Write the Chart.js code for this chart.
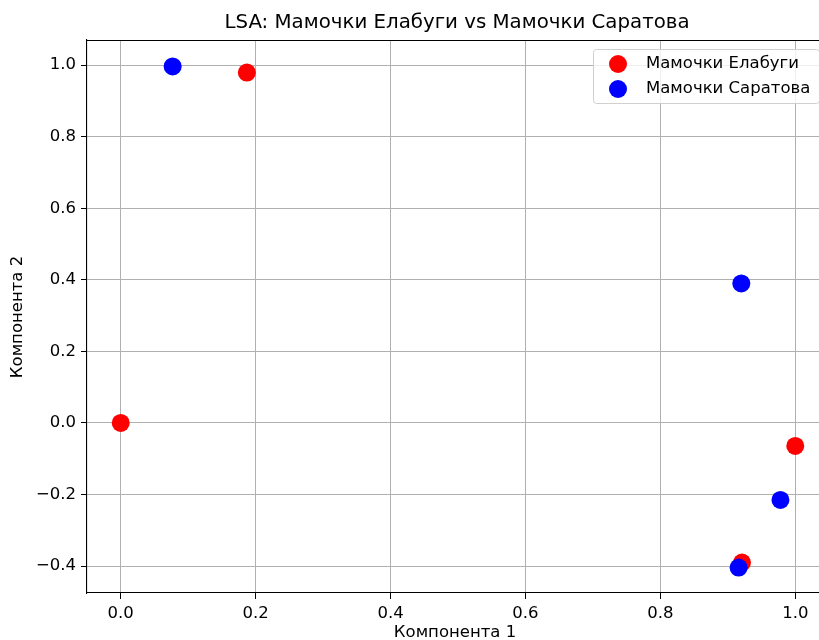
<!DOCTYPE html>
<html>
<head>
<meta charset="utf-8">
<script src="https://cdn.jsdelivr.net/npm/chart.js@4.4.1/dist/chart.umd.min.js"></script>
<style>
  html, body { margin:0; padding:0; background:#fff; overflow:hidden; }
  #wrap { width:830px; height:640px; }
</style>
</head>
<body>
<div id="wrap"><canvas id="lsa" width="830" height="640"></canvas></div>
<script>
(function(){
  const seriesNames = ['Мамочки Елабуги', 'Мамочки Саратова'];
  const redX = [0.0, 0.187, 1.0, 0.921];
  const redY = [0.0, 0.979, -0.064, -0.390];
  const blueX = [0.077, 0.920, 0.978, 0.916];
  const blueY = [0.996, 0.390, -0.215, -0.404];
  const xTicks = [0.0, 0.2, 0.4, 0.6, 0.8, 1.0];
  const yTicks = [-0.4, -0.2, 0.0, 0.2, 0.4, 0.6, 0.8, 1.0];
  const titleText = 'LSA: Мамочки Елабуги vs Мамочки Саратова';
  const xTitle = 'Компонента 1';
  const yTitle = 'Компонента 2';

  const FONT = '"DejaVu Sans", sans-serif';
  const fmt = v => (v < 0 ? '\u2212' : '') + Math.abs(v).toFixed(1);
  const pts = (xs, ys) => xs.map((x, i) => ({x: x, y: ys[i]}));

  // title, axis labels, top spine and framed legend
  const extras = {
    id: 'extras',
    afterDraw(chart){
      const c = chart.ctx, a = chart.chartArea;
      c.save();
      c.strokeStyle = '#000'; c.lineWidth = 1.1;
      c.beginPath(); c.moveTo(a.left, a.top + 0.5); c.lineTo(a.right, a.top + 0.5); c.stroke();

      c.fillStyle = '#000';
      c.font = '19.8px ' + FONT;
      c.textAlign = 'center'; c.textBaseline = 'alphabetic';
      c.fillText(titleText, 457, 28);

      c.font = '16.5px ' + FONT;
      c.textBaseline = 'top';
      c.fillText(xTitle, 455, 624);

      c.save();
      c.translate(18, 317); c.rotate(-Math.PI/2);
      c.textBaseline = 'middle';
      c.fillText(yTitle, 0, 0);
      c.restore();

      // legend
      const lx = 593.5, ly = 49.5, lw = 226, lh = 54, r = 3;
      c.fillStyle = 'rgba(255,255,255,0.8)';
      c.strokeStyle = '#d0d0d0'; c.lineWidth = 1;
      c.beginPath();
      c.roundRect(lx, ly, lw, lh, r);
      c.fill(); c.stroke();
      chart.data.datasets.forEach((ds, i) => {
        const yy = 64 + i * 25;
        c.fillStyle = ds.backgroundColor;
        c.beginPath(); c.arc(618, yy, 9, 0, Math.PI*2); c.fill();
        c.fillStyle = '#000';
        c.textAlign = 'left'; c.textBaseline = 'middle';
        c.fillText(ds.label, 646, yy);
      });
      c.restore();
    }
  };

  const axisCommon = {
    type: 'linear',
    grid: { color: '#b0b0b0', lineWidth: 1, tickColor: '#000', tickLength: 6, drawTicks: true },
    border: { color: '#000', width: 1.1 },
    ticks: { color: '#000', font: { family: FONT, size: 16.5 }, padding: 5, callback: v => fmt(v) }
  };

  new Chart(document.getElementById('lsa'), {
    type: 'scatter',
    data: {
      datasets: [
        { label: seriesNames[0], data: pts(redX, redY), backgroundColor: 'red', pointRadius: 9, pointHoverRadius: 9, borderWidth: 0, order: 1 },
        { label: seriesNames[1], data: pts(blueX, blueY), backgroundColor: 'blue', pointRadius: 9, pointHoverRadius: 9, borderWidth: 0, order: 0 }
      ]
    },
    options: {
      responsive: false,
      animation: false,
      layout: { autoPadding: false, padding: { top: 40, right: 1, left: 0, bottom: 0 } },
      plugins: { legend: { display: false }, tooltip: { enabled: false }, title: { display: false } },
      scales: {
        x: Object.assign({}, axisCommon, {
          min: -0.05, max: 1.05,
          afterBuildTicks: s => { s.ticks = xTicks.map(v => ({value: v})); },
          afterFit: s => { s.height = 47; }
        }),
        y: Object.assign({}, axisCommon, {
          min: -0.475, max: 1.07,
          afterBuildTicks: s => { s.ticks = yTicks.map(v => ({value: v})); },
          afterFit: s => { s.width = 87; }
        })
      }
    },
    plugins: [extras]
  });
})();
</script>
</body>
</html>
